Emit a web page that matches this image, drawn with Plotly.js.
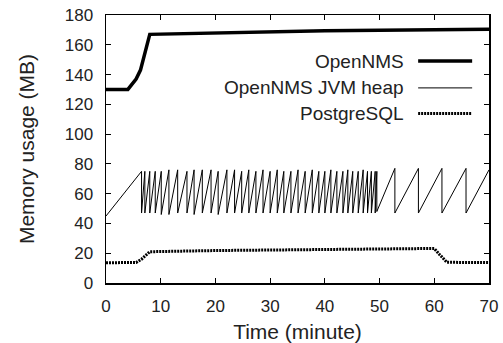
<!DOCTYPE html>
<html>
<head>
<meta charset="utf-8">
<script src="https://cdn.plot.ly/plotly-3.0.1.min.js"></script>
<style>html,body{margin:0;padding:0;background:#fff;}#chart{width:503px;height:343px;}</style>
</head>
<body>
<div id="chart"></div>
<script>
// OpenNMS total memory (MB)
const opennmsTime = [0, 4, 5.5, 6.3, 8, 20, 40, 70];
const opennmsMem  = [130, 130, 137, 143, 167, 168, 169.5, 170.5];

// OpenNMS JVM heap (MB) - sawtooth (rise, then vertical drop)
const heapTime = [0,
  6.5, 6.5, 7.1, 7.1, 8.0, 8.0, 9.0, 9.0, 10.1, 10.1, 11.5, 11.5, 13.1, 13.1,
  14.8, 14.8, 16.1, 16.1, 17.6, 17.6, 19.2, 19.2, 20.5, 20.5, 22.1, 22.1,
  23.5, 23.5, 24.8, 24.8, 26.1, 26.1, 27.4, 27.4, 28.7, 28.7, 30.0, 30.0,
  31.3, 31.3, 32.5, 32.5, 33.8, 33.8, 35.1, 35.1, 36.4, 36.4, 37.7, 37.7,
  38.9, 38.9, 40.0, 40.0, 41.1, 41.1, 42.2, 42.2, 43.3, 43.3, 44.2, 44.2,
  45.1, 45.1, 46.1, 46.1, 47.0, 47.0, 47.8, 47.8, 48.5, 48.5, 49.2, 49.2,
  49.5, 49.5, 52.8, 52.8, 57.1, 57.1, 61.4, 61.4, 65.8, 65.8, 70];
const heapMem = [45,
  75, 47, 75, 47, 75, 47, 75, 47, 75, 46, 76, 46, 76, 47,
  75, 47, 76, 46, 76, 47, 76, 47, 75, 46, 76, 47,
  76, 47, 75, 47, 76, 47, 75, 47, 76, 47, 75, 47,
  76, 47, 75, 47, 75, 47, 76, 47, 75, 47, 76, 47,
  75, 47, 75, 47, 76, 47, 75, 47, 75, 47, 76, 47,
  75, 47, 75, 47, 76, 47, 75, 47, 75, 47, 75, 47,
  75, 48, 77, 47, 77, 47, 77, 47, 77, 47, 76];

// PostgreSQL memory (MB)
const pgTime = [0, 5.5, 6.5, 8, 20, 35, 50, 60, 61, 62.3, 70];
const pgMem  = [13.6, 13.8, 16, 21, 21.8, 22.5, 23, 23.2, 19, 13.9, 13.7];

const xTicks = [0, 10, 20, 30, 40, 50, 60, 70];
const yTicks = [0, 20, 40, 60, 80, 100, 120, 140, 160, 180];
const seriesNames = ['OpenNMS', 'OpenNMS JVM heap', 'PostgreSQL'];

const FONT = 'Liberation Sans, Arial, Helvetica, sans-serif';

const traces = [
  {x: opennmsTime, y: opennmsMem, mode: 'lines', name: seriesNames[0],
   line: {color: '#000', width: 3.5}},
  {x: heapTime, y: heapMem, mode: 'lines', name: seriesNames[1],
   line: {color: '#000', width: 1}},
  {x: pgTime, y: pgMem, mode: 'lines', name: seriesNames[2],
   line: {color: '#000', width: 3, dash: '2px,1px'}}
];

// gnuplot-style legend: text right-aligned, sample to the right
const legendRows = [0.828, 0.728, 0.632];
const legendStyles = [
  {width: 3.5, dash: 'solid'},
  {width: 1, dash: 'solid'},
  {width: 3, dash: '2px,1px'}
];
const annotations = seriesNames.map((n, i) => ({
  xref: 'paper', yref: 'paper', x: 0.783, y: legendRows[i],
  text: n, showarrow: false, xanchor: 'right', yanchor: 'middle',
  font: {family: FONT, size: 19, color: '#222'}
}));
const shapes = seriesNames.map((n, i) => ({
  type: 'line', xref: 'paper', yref: 'paper',
  x0: 0.815, x1: 0.956, y0: legendRows[i], y1: legendRows[i],
  line: {color: '#000', width: legendStyles[i].width, dash: legendStyles[i].dash}
}));

const axisCommon = {
  showgrid: false, zeroline: false, showline: true, linecolor: '#000', linewidth: 1.5,
  ticks: 'inside', ticklen: 5, tickwidth: 1.2, tickcolor: '#000', mirror: 'ticks',
  tickfont: {family: FONT, size: 17, color: '#222'}, automargin: false
};

const layout = {
  width: 503, height: 343,
  margin: {l: 106, r: 14, t: 15, b: 60},
  paper_bgcolor: '#fff', plot_bgcolor: '#fff',
  showlegend: false,
  xaxis: Object.assign({}, axisCommon, {
    range: [0, 70], tickvals: xTicks, ticktext: xTicks.map(String),
    ticklabelstandoff: 7,
    title: {text: 'Time (minute)', font: {family: FONT, size: 21, color: '#222'}, standoff: 10}
  }),
  yaxis: Object.assign({}, axisCommon, {
    range: [0, 180], tickvals: yTicks, ticktext: yTicks.map(String),
    ticklabelstandoff: 8,
    title: {text: 'Memory usage (MB)', font: {family: FONT, size: 21, color: '#222'}, standoff: 24}
  }),
  annotations: annotations,
  shapes: shapes
};

Plotly.newPlot('chart', traces, layout, {displayModeBar: false, staticPlot: true});
</script>
</body>
</html>
